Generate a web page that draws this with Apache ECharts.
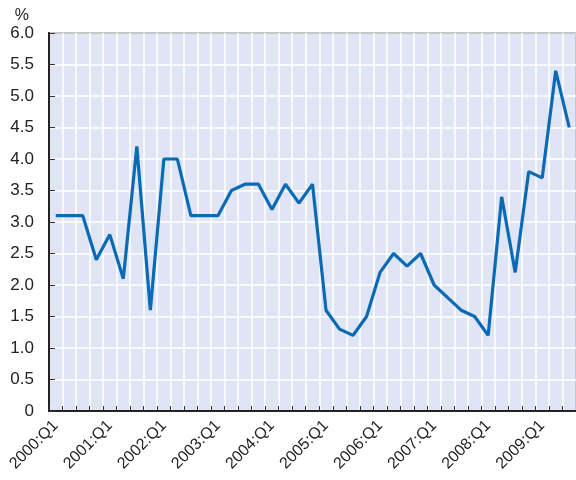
<!DOCTYPE html>
<html>
<head>
<meta charset="utf-8">
<script src="https://cdn.jsdelivr.net/npm/echarts@6/dist/echarts.min.js"></script>
<style>
  html, body { margin: 0; padding: 0; background: #fff; }
  #chart { width: 576px; height: 480px; }
</style>
</head>
<body>
<div id="chart"></div>
<script>
// 季度 2000:Q1 - 2009:Q3
var years = ['2000', '2001', '2002', '2003', '2004', '2005', '2006', '2007', '2008', '2009'];
var quarters = [];
years.forEach(function (y) {
    ['Q1', 'Q2', 'Q3', 'Q4'].forEach(function (q) {
        quarters.push(y + ':' + q);
    });
});
quarters = quarters.slice(0, 39);

// 数值 (%)
var rate = [
    3.1, 3.1, 3.1, 2.4,
    2.8, 2.1, 4.2, 1.6,
    4.0, 4.0, 3.1, 3.1,
    3.1, 3.5, 3.6, 3.6,
    3.2, 3.6, 3.3, 3.6,
    1.6, 1.3, 1.2, 1.5,
    2.2, 2.5, 2.3, 2.5,
    2.0, 1.8, 1.6, 1.5,
    1.2, 3.4, 2.2, 3.8,
    3.7, 5.4, 4.5
];

var textColor = '#222';
var fontFamily = '"Liberation Sans", Arial, sans-serif';

var myChart = echarts.init(document.getElementById('chart'));

var option = {
    animation: false,
    grid: {
        show: true,
        left: 49,
        top: 33,
        right: -3,
        bottom: 69,
        backgroundColor: '#dfe5f4',
        borderColor: '#222',
        borderWidth: 2
    },
    xAxis: {
        type: 'category',
        data: quarters,
        boundaryGap: true,
        axisLine: {
            lineStyle: { color: '#222', width: 2 }
        },
        // 坐标轴刻度
        axisTick: {
            show: true,
            inside: true,
            length: 5,
            interval: 0,
            lineStyle: { color: '#333' }
        },
        axisLabel: {
            interval: 3,
            rotate: 45,
            color: textColor,
            fontSize: 16,
            fontFamily: fontFamily,
            margin: 12
        },
        // 竖线
        splitLine: {
            show: true,
            interval: 0,
            lineStyle: { color: '#ffffff', width: 1.5 }
        }
    },
    yAxis: {
        type: 'value',
        min: 0,
        max: 6,
        interval: 0.5,
        name: '%',
        nameLocation: 'end',
        nameGap: 9,
        nameTextStyle: {
            color: textColor,
            fontSize: 16,
            fontFamily: fontFamily,
            align: 'right',
            padding: [0, 20, 0, 0]
        },
        axisLine: {
            show: true,
            lineStyle: { color: '#222', width: 2 }
        },
        axisTick: {
            show: true,
            inside: true,
            length: 6,
            lineStyle: { color: '#333' }
        },
        axisLabel: {
            color: textColor,
            fontSize: 17,
            fontFamily: fontFamily,
            margin: 15,
            formatter: function (v) {
                return v === 0 ? '0' : v.toFixed(1);
            }
        },
        splitLine: {
            show: true,
            lineStyle: { color: '#ffffff', width: 1.5 }
        }
    },
    series: [
        {
            type: 'line',
            data: rate,
            showSymbol: false,
            lineStyle: { color: '#0b6ab4', width: 3.2 },
            itemStyle: { color: '#0b6ab4' }
        }
    ]
};

myChart.setOption(option);
</script>
</body>
</html>
